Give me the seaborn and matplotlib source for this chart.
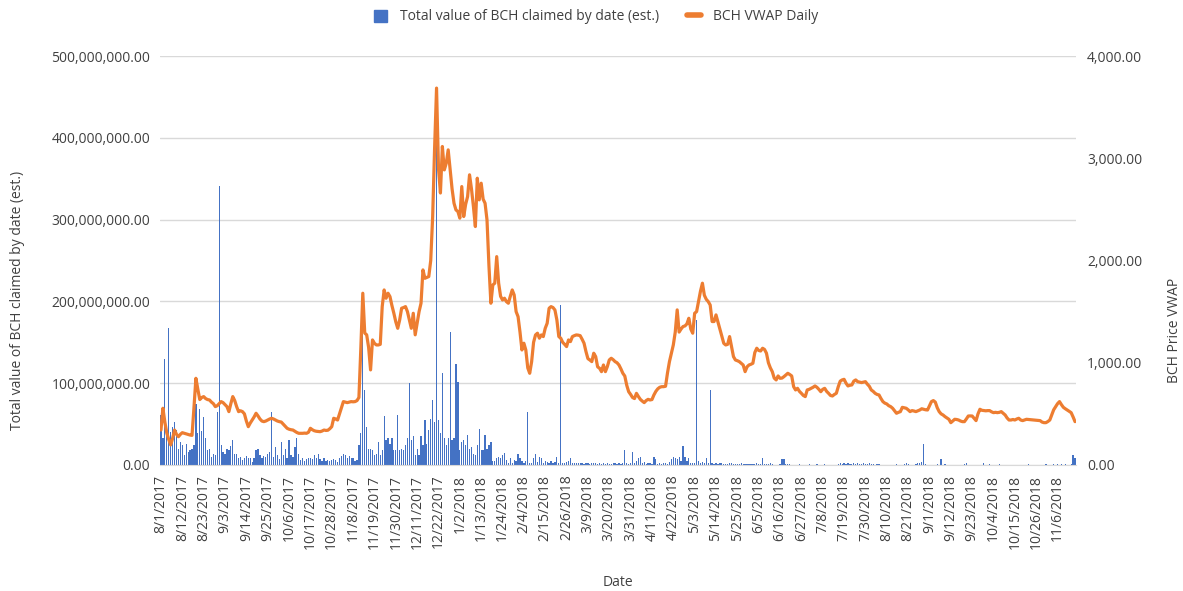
"""BCH claimed value (bars) vs. BCH VWAP daily price (line), Aug 2017 - Nov 2018."""

import matplotlib
matplotlib.use("Agg")
import matplotlib.pyplot as plt
from matplotlib.lines import Line2D
from matplotlib.patches import Patch
import numpy as np
import pandas as pd
import seaborn as sns

START_DATE = "2017-08-01"
TICK_EVERY = 11  # one date label every 11 days

# Total value of BCH claimed per day, in millions of USD (one row = 11 days)
claimed_musd = [
    61, 33, 129, 35, 167, 40, 47, 53, 43, 20, 28,
    24, 12, 26, 16, 18, 20, 24, 75, 39, 69, 41,
    59, 33, 18, 20, 10, 14, 12, 65, 341, 24, 16,
    14, 20, 18, 23, 31, 14, 13, 8, 10, 6, 9,
    11, 9, 8, 4, 8, 18, 19, 12, 8, 11, 10,
    14, 16, 65, 10, 22, 12, 7, 28, 12, 20, 8,
    31, 12, 10, 22, 33, 14, 6, 8, 5, 7, 9,
    8, 7, 12, 8, 13, 7, 5, 8, 5, 6, 5,
    6, 7, 6, 4, 8, 11, 13, 12, 8, 11, 9,
    8, 5, 6, 24, 39, 160, 92, 47, 20, 20, 18,
    12, 13, 28, 12, 18, 60, 31, 33, 26, 33, 18,
    18, 61, 18, 19, 18, 24, 33, 100, 31, 35, 12,
    20, 12, 35, 24, 55, 26, 43, 56, 79, 53, 450,
    55, 39, 112, 33, 24, 33, 162, 31, 33, 123, 102,
    18, 28, 31, 24, 37, 20, 22, 14, 12, 24, 44,
    18, 18, 37, 20, 24, 28, 5, 5, 8, 10, 8,
    12, 15, 6, 3, 8, 3, 6, 5, 14, 8, 5,
    3, 5, 65, 3, 3, 8, 13, 4, 10, 8, 3,
    5, 4, 3, 5, 3, 4, 10, 3, 196, 2, 3,
    4, 5, 9, 3, 2, 3, 2, 3, 2, 1, 3,
    2, 1, 2, 3, 2, 1, 2, 1, 2, 1, 2,
    1, 1, 2, 3, 1, 2, 1, 3, 18, 2, 1,
    3, 16, 2, 5, 8, 10, 2, 4, 1, 2, 3,
    1, 10, 7, 1, 2, 1, 2, 3, 1, 4, 7,
    10, 8, 7, 10, 5, 23, 10, 5, 9, 3, 2,
    3, 177, 5, 3, 4, 3, 8, 2, 92, 2, 1,
    2, 1, 2, 3, 1, 1, 1, 2, 3, 1, 1,
    1, 1, 3, 1, 1, 1, 1, 1, 1, 1, 2,
    1, 1, 9, 1, 1, 1, 2, 1, 0.5, 0.5, 0.5,
    1, 7, 7, 1, 1, 1, 0.5, 0.5, 0.5, 0.5, 1,
    0.5, 0.5, 0.5, 0.5, 1, 0.5, 0.5, 0.5, 1, 0.5, 0.5,
    0.5, 1, 0.5, 0.5, 0.5, 0.5, 0.5, 0.5, 1, 2, 1,
    2, 1, 2, 1, 1, 2, 1, 2, 1, 1, 3,
    1, 1, 2, 1, 1, 0.5, 1, 1, 0.5, 0.5, 0.5,
    0.5, 0.5, 0.5, 0.5, 0.5, 1, 0.5, 0.5, 0.5, 1, 3,
    1, 0.5, 0.5, 0.5, 1, 2, 3, 4, 26, 1, 0.5,
    0.5, 0.5, 0.5, 0.5, 1, 0.5, 7, 0.5, 1, 0.5, 0.5,
    0.5, 0.5, 0.5, 0.5, 0.5, 0.5, 0.5, 1, 2, 0.5, 0.5,
    0.5, 0.5, 0.5, 0.5, 0.5, 0.5, 2, 0.5, 0.5, 1, 0.5,
    0.5, 0.5, 0.5, 1, 0.5, 0.5, 0.5, 0.5, 0.5, 0.5, 0.5,
    0.5, 0.5, 0.5, 0.5, 0.5, 0.5, 0.5, 1, 0.5, 0.5, 0.5,
    0.5, 0.5, 0.5, 0.5, 0.5, 1.5, 0.5, 0.5, 0.5, 1, 0.5,
    1, 0.5, 1, 0.5, 1, 0.5, 0.5, 1, 12, 8,
]

# BCH VWAP daily price in USD (one row = 11 days)
vwap_price = [
    342, 555, 420, 313, 250, 196, 260, 342, 300, 277, 300,
    316, 310, 303, 298, 293, 290, 560, 848, 740, 640, 660,
    669, 650, 640, 636, 615, 600, 571, 580, 600, 620, 610,
    590, 571, 522, 600, 669, 630, 570, 522, 530, 522, 500,
    430, 375, 410, 440, 470, 506, 480, 450, 430, 424, 430,
    440, 450, 457, 450, 440, 430, 424, 420, 400, 380, 359,
    350, 345, 342, 330, 318, 310, 310, 310, 312, 310, 320,
    359, 345, 335, 330, 328, 326, 332, 342, 338, 340, 355,
    375, 457, 450, 440, 500, 560, 620, 615, 610, 615, 620,
    618, 620, 630, 660, 1150, 1680, 1290, 1273, 1150, 930, 1223,
    1190, 1174, 1174, 1180, 1549, 1712, 1631, 1680, 1647, 1560, 1484,
    1400, 1337, 1419, 1533, 1540, 1549, 1500, 1420, 1337, 1484, 1273,
    1386, 1500, 1582, 1908, 1826, 1835, 1843, 2000, 2430, 3100, 3686,
    2900, 2660, 3115, 2886, 2951, 3082, 2886, 2700, 2560, 2495, 2479,
    2414, 2723, 2430, 2550, 2625, 2838, 2700, 2528, 2332, 2805, 2593,
    2756, 2600, 2560, 2397, 1950, 1582, 1761, 1778, 2038, 1778, 1650,
    1614, 1631, 1598, 1582, 1650, 1712, 1663, 1500, 1451, 1300, 1125,
    1191, 1125, 950, 897, 1011, 1200, 1272, 1289, 1240, 1272, 1256,
    1337, 1386, 1533, 1549, 1540, 1516, 1419, 1256, 1240, 1200, 1180,
    1158, 1223, 1207, 1256, 1265, 1272, 1270, 1265, 1230, 1191, 1109,
    1040, 1027, 1011, 1093, 1060, 960, 946, 913, 978, 913, 962,
    1027, 1044, 1030, 1011, 1000, 978, 940, 897, 870, 780, 717,
    690, 660, 650, 701, 670, 642, 625, 610, 630, 642, 636,
    640, 685, 720, 745, 760, 766, 766, 770, 900, 1010, 1090,
    1174, 1300, 1517, 1300, 1330, 1354, 1360, 1380, 1435, 1330, 1289,
    1484, 1500, 1600, 1700, 1778, 1660, 1620, 1598, 1565, 1403, 1403,
    1468, 1400, 1330, 1260, 1190, 1174, 1180, 1256, 1158, 1060, 1027,
    1020, 1011, 995, 978, 913, 960, 978, 985, 995, 1100, 1142,
    1120, 1115, 1142, 1130, 1093, 1000, 950, 913, 850, 832, 871,
    848, 850, 864, 880, 897, 885, 871, 766, 734, 750, 720,
    701, 680, 669, 734, 740, 750, 760, 773, 760, 740, 717,
    740, 750, 720, 701, 680, 675, 690, 701, 766, 820, 832,
    838, 800, 773, 780, 783, 820, 832, 815, 810, 806, 810,
    815, 790, 770, 734, 720, 701, 690, 685, 650, 620, 605,
    597, 580, 571, 555, 530, 506, 515, 522, 564, 560, 555,
    540, 522, 532, 528, 522, 530, 538, 550, 545, 540, 538,
    580, 620, 630, 615, 560, 522, 500, 489, 473, 460, 447,
    414, 430, 447, 445, 440, 430, 424, 424, 450, 479, 480,
    479, 457, 434, 500, 545, 535, 532, 530, 532, 532, 520,
    512, 515, 512, 515, 522, 505, 489, 460, 440, 440, 445,
    440, 450, 457, 440, 434, 440, 447, 445, 442, 440, 440,
    438, 436, 434, 420, 414, 414, 425, 440, 490, 540, 571,
    600, 620, 590, 564, 550, 538, 525, 512, 470, 424,
]

BAR_COLOR = "#4472C4"
LINE_COLOR = "#ED7D31"
TEXT_COLOR = "#404040"
GRID_COLOR = "#d9d9d9"


def build_frame() -> pd.DataFrame:
    n = len(vwap_price)
    assert len(claimed_musd) == n, (len(claimed_musd), n)
    return pd.DataFrame({
        "day": np.arange(n),
        "date": pd.date_range(START_DATE, periods=n, freq="D"),
        "claimed": np.array(claimed_musd) * 1e6,
        "vwap": vwap_price,
    })


def plot(df: pd.DataFrame) -> None:
    sns.set_style("white")
    plt.rcParams["font.family"] = ["Open Sans", "DejaVu Sans"]
    plt.rcParams["font.size"] = 10

    W, H = 1183, 591
    fig = plt.figure(figsize=(W / 100, H / 100), dpi=100)
    ax = fig.add_axes([160 / W, 1 - 465 / H, 916 / W, 409 / H])

    # thin daily bars: no antialiasing so each one stays a solid blue stroke
    sns.barplot(data=df, x="day", y="claimed", orient="v", color=BAR_COLOR,
                saturation=1, width=0.65, linewidth=0, errorbar=None,
                antialiased=False, ax=ax)
    ax2 = ax.twinx()
    sns.lineplot(data=df, x="day", y="vwap", color=LINE_COLOR,
                 linewidth=2.3, ax=ax2)

    n = len(df)
    ax.set_xlim(-0.5, n - 0.5)

    # left axis: claimed value
    ax.set_ylim(0, 500e6)
    ax.set_yticks(np.arange(0, 501e6, 100e6))
    ax.set_yticklabels([f"{v:,.2f}" for v in ax.get_yticks()])
    ax.yaxis.grid(True, color=GRID_COLOR, linewidth=1)
    ax.set_axisbelow(True)

    # right axis: price
    ax2.set_ylim(0, 4000)
    ax2.set_yticks(np.arange(0, 4001, 1000))
    ax2.set_yticklabels([f"{v:,.2f}" for v in ax2.get_yticks()])
    ax2.grid(False)

    # date labels every 11 days
    ticks = df["day"].iloc[::TICK_EVERY]
    labels = [f"{d.month}/{d.day}/{d.year}" for d in df["date"].iloc[::TICK_EVERY]]
    ax.set_xticks(ticks)
    ax.set_xticklabels(labels, rotation=90)

    ax.tick_params(axis="x", length=0, pad=7, colors=TEXT_COLOR, labelsize=10)
    ax.tick_params(axis="y", length=0, pad=7, colors=TEXT_COLOR, labelsize=10)
    ax2.tick_params(axis="y", length=0, pad=8, colors=TEXT_COLOR, labelsize=10)

    for a in (ax, ax2):
        for side in ("top", "left", "right", "bottom"):
            a.spines[side].set_visible(False)
    ax.spines["bottom"].set_visible(True)
    ax.spines["bottom"].set_color(GRID_COLOR)

    ax.set_xlabel("")
    ax.set_ylabel("")
    ax2.set_ylabel("")

    fig.text(18 / W, 1 - 300 / H, "Total value of BCH claimed by date (est.)",
             rotation=90, ha="center", va="center", color=TEXT_COLOR, fontsize=10)
    fig.text(1175 / W, 1 - 330 / H, "BCH Price VWAP",
             rotation=90, ha="center", va="center", color=TEXT_COLOR, fontsize=10)
    fig.text(618 / W, 1 - 582 / H, "Date",
             ha="center", va="center", color=TEXT_COLOR, fontsize=10)

    handles = [Patch(color=BAR_COLOR), Line2D([], [], color=LINE_COLOR, linewidth=4)]
    fig.legend(handles, ["Total value of BCH claimed by date (est.)", "BCH VWAP Daily"],
               loc="center", bbox_to_anchor=(596 / W, 1 - 17 / H), ncol=2,
               frameon=False, handlelength=1.0, handleheight=1.0,
               handletextpad=0.9, columnspacing=2.0, fontsize=10,
               labelcolor=TEXT_COLOR)

    fig.savefig("out.png", dpi=100)
    plt.close(fig)


if __name__ == "__main__":
    plot(build_frame())
